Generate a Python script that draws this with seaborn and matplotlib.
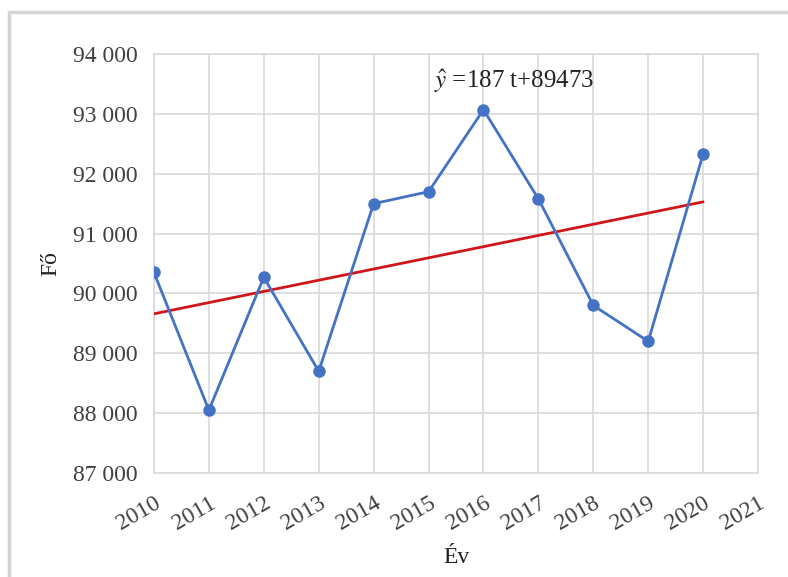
import numpy as np
import pandas as pd
import matplotlib
matplotlib.use('Agg')
import matplotlib.pyplot as plt
from matplotlib.ticker import FuncFormatter
from matplotlib.patches import Rectangle
import seaborn as sns

#---------------------------------------------------------
years=[2010, 2011, 2012, 2013, 2014, 2015, 2016, 2017, 2018, 2019, 2020]
values=[90350, 88050, 90270, 88700, 91500, 91700, 93070, 91580, 89800, 89200, 92330]
xticks=list(range(2010, 2022))
slope=187
intercept=89473
eq_label=r'$\hat{y}$ =187 t+89473'
xlbl='Év'
ylbl='Fő'

#--------------------------------------------------------
df=pd.DataFrame({'year': years, 'value': values})
df['t']=np.arange(1, len(df)+1)
df['trend']=slope*df['t']+intercept

sns.set_style('white')
plt.rcParams['font.family']=['Liberation Serif', 'DejaVu Serif']
plt.rcParams['mathtext.fontset']='stix'

fig=plt.figure(figsize=(7.88, 5.77), dpi=100)
ax=fig.add_axes([0.1954, 0.1802, 0.7666, 0.7262])

#frame with light shadow
fig.patches.append(Rectangle((0.012, -0.05), 1.05, 1.03, transform=fig.transFigure,
	fill=False, edgecolor='#d4d4d4', linewidth=2.5, zorder=0))

#plot
sns.lineplot(x='year', y='trend', data=df, ax=ax, color='#d0161b', linewidth=2.0, zorder=3)
sns.lineplot(x='year', y='value', data=df, ax=ax, color='#4472c4', linewidth=2.0,
	marker='o', markersize=9, markeredgewidth=0, zorder=4)

#adjust
ax.set_xlim(2010, 2021)
ax.set_ylim(87000, 94000)
ax.set_xticks(xticks)
ax.set_yticks(range(87000, 94001, 1000))
ax.yaxis.set_major_formatter(FuncFormatter(lambda v, p: f'{int(v):,}'.replace(',', ' ')))
ax.grid(True, color='#d9d9d9', linewidth=1.2)
for s in ax.spines.values():
	s.set_color('#d9d9d9')
	s.set_linewidth(1.2)
ax.tick_params(axis='both', length=0, labelsize=17, colors='#404040')
ax.tick_params(axis='y', pad=12)
ax.tick_params(axis='x', pad=14)
plt.setp(ax.get_xticklabels(), rotation=30, ha='right', rotation_mode='anchor')
ax.set_xlabel(xlbl, fontsize=17, labelpad=9, color='#222222')
ax.set_ylabel(ylbl, fontsize=17, labelpad=8, color='#222222')
ax.text(2015.1, 93550, eq_label, fontsize=18, color='#222222', va='center', ha='left')

#save
fig.savefig('out.png', dpi=100)
plt.close()
